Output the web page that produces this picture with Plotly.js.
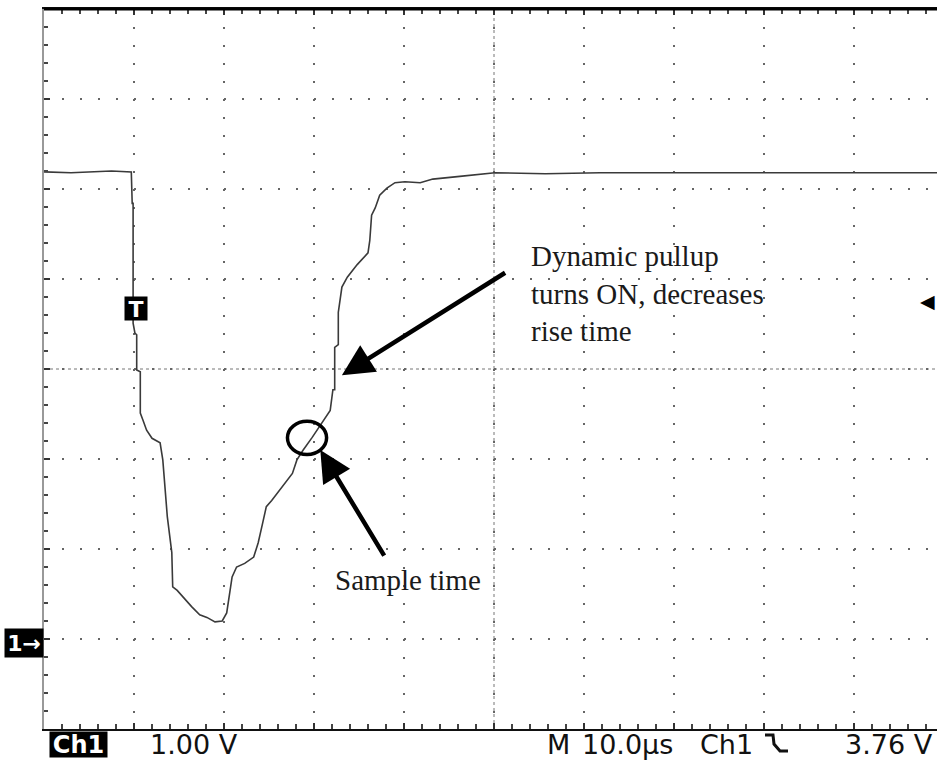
<!DOCTYPE html>
<html>
<head>
<meta charset="utf-8">
<script src="https://cdn.plot.ly/plotly-3.0.1.min.js"></script>
<style>
html,body{margin:0;padding:0;overflow:hidden;background:#fff;}
#chart{width:944px;height:763px;}
</style>
</head>
<body>
<div id="chart"></div>
<script>
// Time in microseconds (10 us/div, screen centre = 0), voltage in volts (1 V/div, ground = 0)
const timeUs = [-50, -47, -42.5, -40.3, -40.2, -40.1, -40.1, -39.9, -39.7, -39.7, -39.3, -39.3, -39.0, -38.6, -38.0, -37.1,
  -36.8, -36.3, -35.8, -35.7, -35.2, -34.6, -33.6, -32.7, -31.9, -31.0, -30.2, -29.7, -29.4, -29.1, -28.6, -27.7,
  -26.7, -26.2, -25.7, -25.3, -24.7, -23.2, -22.4, -21.9, -21.2, -20.2, -19.1, -18.2, -17.9, -17.7, -17.7, -17.3,
  -17.3, -16.9, -16.3, -15.2, -14.0, -13.8, -13.6, -13.2, -12.7, -11.9, -11.0, -9.9, -8.2, -6.8, -3.8, 0.1, 5.7,
  11.8, 22.9, 34.0, 50.0];
const volts = [5.19, 5.18, 5.20, 5.19, 4.84, 4.84, 3.51, 3.40, 3.38, 2.99, 2.97, 2.51, 2.43, 2.32, 2.23, 2.18,
  1.99, 1.36, 0.96, 0.58, 0.54, 0.47, 0.36, 0.27, 0.24, 0.19, 0.20, 0.29, 0.47, 0.69, 0.80, 0.84,
  0.91, 1.07, 1.29, 1.47, 1.54, 1.73, 1.84, 1.99, 2.10, 2.24, 2.40, 2.54, 2.77, 2.77, 3.24, 3.27,
  3.63, 3.91, 4.02, 4.16, 4.29, 4.43, 4.71, 4.79, 4.93, 5.01, 5.07, 5.08, 5.07, 5.11, 5.14, 5.18, 5.17,
  5.18, 5.18, 5.18, 5.18];

const voltsPerDiv = "1.00 V";
const timePerDiv = "10.0µs";
const channel = "Ch1";
const triggerLevel = "3.76 V";
const triggerVolts = 3.76;
const triggerTime = -39.8;
const pullupText = "Dynamic pullup<br>turns ON, decreases<br>rise time";
const sampleText = "Sample time";
const pullupArrow = {head: [-16.9, 2.93], tail: [1.4, 4.08]};
const sampleArrow = {head: [-19.3, 2.10], tail: [-12.1, 0.91]};
const sampleCircle = {x0: -22.95, x1: -18.6, y0: 2.05, y1: 2.42};

// pixel helpers for screen labels outside the graticule
const L = 44, T = 9, W = 900, H = 720;
const px = p => (p - L) / W;
const py = p => (T + H - p) / H;

const serif = {family: "Liberation Serif, Times New Roman, serif", size: 29, color: "#1a1a1a"};
const sans = {family: "DejaVu Sans, Verdana, sans-serif", size: 27, color: "#111"};

const axisCommon = {
  showgrid: true, gridcolor: "#666", gridwidth: 1.6, griddash: "2px,16px",
  zeroline: false, showline: true, mirror: "ticks",
  ticks: "inside", ticklen: 6, tickwidth: 1.5, tickcolor: "#333",
  showticklabels: false, fixedrange: true
};

const bottomLabel = (text, x, anchor) => ({text: text, x: px(x), y: py(744), xref: "paper", yref: "paper",
  xanchor: anchor, yanchor: "middle", showarrow: false, font: sans});

const layout = {
  width: 944, height: 763,
  margin: {l: L, r: 0, t: T, b: 763 - T - H, pad: 0},
  paper_bgcolor: "#fff", plot_bgcolor: "#fff",
  showlegend: false,
  xaxis: Object.assign({}, axisCommon, {range: [-50, 50], dtick: 10, tick0: 0, linecolor: "#111", linewidth: 2,
    minor: {dtick: 2, ticks: "inside", ticklen: 5, tickcolor: "#444", tickwidth: 1.5, showgrid: false}}),
  yaxis: Object.assign({}, axisCommon, {range: [-1, 7], dtick: 1, tick0: 0, linecolor: "#999", linewidth: 2,
    minor: {dtick: 0.2, ticks: "inside", ticklen: 4, tickcolor: "#444", tickwidth: 1.5, showgrid: false}}),
  shapes: [
    {type: "line", xref: "paper", yref: "y", x0: 0, x1: 1, y0: 3, y1: 3, line: {color: "#777", width: 1, dash: "3px,3px"}, layer: "below"},
    {type: "line", xref: "x", yref: "paper", x0: 0, x1: 0, y0: 0, y1: 1, line: {color: "#777", width: 1, dash: "3px,3px"}, layer: "below"},
    {type: "line", xref: "paper", yref: "paper", x0: 0, x1: 1, y0: 1, y1: 1, line: {color: "#000", width: 3}},
    Object.assign({type: "circle", xref: "x", yref: "y", line: {color: "#000", width: 3.5}}, sampleCircle),
    {type: "path", xref: "paper", yref: "paper",
      path: `M${px(765)},${py(735)} L${px(773)},${py(735)} L${px(774)},${py(744)} L${px(780)},${py(751)} L${px(788)},${py(751)}`,
      line: {color: "#111", width: 3}}
  ],
  annotations: [
    {text: pullupText, x: 3.9, y: 3.84, xref: "x", yref: "y", xanchor: "left", yanchor: "middle", align: "left", showarrow: false, font: serif},
    {text: sampleText, x: -17.9, y: 0.66, xref: "x", yref: "y", xanchor: "left", yanchor: "middle", showarrow: false, font: serif},
    {text: "", x: pullupArrow.head[0], y: pullupArrow.head[1], ax: pullupArrow.tail[0], ay: pullupArrow.tail[1],
      xref: "x", yref: "y", axref: "x", ayref: "y", showarrow: true, arrowhead: 2, arrowsize: 1.4, arrowwidth: 4.5, arrowcolor: "#000", standoff: 0},
    {text: "", x: sampleArrow.head[0], y: sampleArrow.head[1], ax: sampleArrow.tail[0], ay: sampleArrow.tail[1],
      xref: "x", yref: "y", axref: "x", ayref: "y", showarrow: true, arrowhead: 2, arrowsize: 1.4, arrowwidth: 4.5, arrowcolor: "#000", standoff: 0},
    {text: "<b>T</b>", x: triggerTime, y: triggerVolts, xref: "x", yref: "y", xanchor: "center", yanchor: "middle", yshift: -8, showarrow: false,
      width: 22, height: 23, bgcolor: "#000", borderpad: 0, font: {family: "DejaVu Sans", size: 22, color: "#fff"}, valign: "top"},
    {text: "<b>1→</b>", x: px(24), y: 0, xref: "paper", yref: "y", xanchor: "center", yanchor: "middle", yshift: -4, showarrow: false,
      width: 38, height: 28, bgcolor: "#000", borderpad: 0, font: {family: "DejaVu Sans", size: 22, color: "#fff"}},
    {text: "◀", x: px(927), y: triggerVolts, xref: "paper", yref: "y", xanchor: "center", yanchor: "middle", showarrow: false,
      font: {family: "DejaVu Sans", size: 19, color: "#000"}},
    {text: "<b>" + channel + "</b>", x: px(78.5), y: py(744.5), xref: "paper", yref: "paper", xanchor: "center", yanchor: "middle", showarrow: false,
      width: 57, height: 25, bgcolor: "#000", borderpad: 0, font: {family: "DejaVu Sans", size: 24, color: "#fff"}},
    bottomLabel(voltsPerDiv, 148, "left"),
    bottomLabel("M", 545, "left"),
    bottomLabel(timePerDiv, 580, "left"),
    bottomLabel(channel, 698, "left"),
    bottomLabel(triggerLevel, 935, "right")
  ]
};

const traces = [{
  type: "scatter", mode: "lines", x: timeUs, y: volts,
  line: {color: "#3a3a3a", width: 1.6}, hoverinfo: "skip"
}];

Plotly.newPlot("chart", traces, layout, {staticPlot: true, displayModeBar: false});
</script>
</body>
</html>
